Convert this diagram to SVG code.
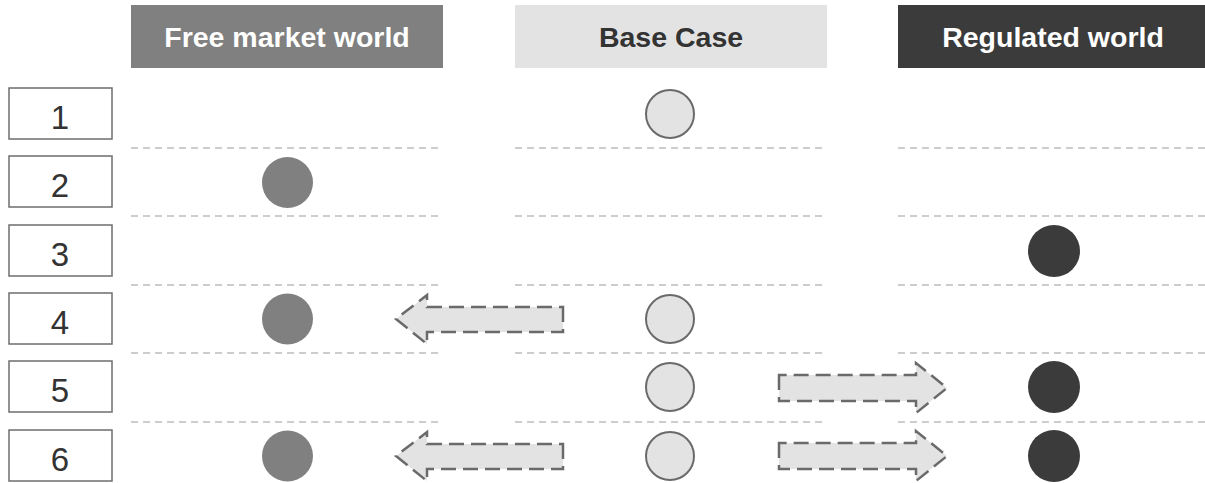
<svg xmlns="http://www.w3.org/2000/svg" width="1205" height="483" viewBox="0 0 1205 483">
  <style>
    .hdr { font-family: "Liberation Sans", Arial, sans-serif; font-weight: bold; font-size: 28.5px; text-anchor: middle; }
    .num { font-family: "Liberation Sans", Arial, sans-serif; font-size: 33px; fill: #333; text-anchor: middle; }
    .rowbox { fill: #fff; stroke: #6e6e6e; stroke-width: 1.5; }
    .sep { stroke: #bdbdbd; stroke-width: 1.5; stroke-dasharray: 7 5; fill: none; }
    .free { fill: #808080; }
    .base { fill: #e3e3e3; stroke: #6a6a6a; stroke-width: 2; }
    .reg { fill: #3b3b3b; }
    .arrow { fill: #e3e3e3; stroke: #6a6a6a; stroke-width: 2.5; stroke-dasharray: 15 7; stroke-linejoin: miter; }
  </style>

  <!-- column headers -->
  <g id="hdr-free">
    <rect x="131" y="5" width="312" height="63" fill="#808080"/>
    <text class="hdr" x="287" y="47" fill="#fff">Free market world</text>
  </g>
  <g id="hdr-base">
    <rect x="515" y="5" width="312" height="63" fill="#e3e3e3"/>
    <text class="hdr" x="671" y="47" fill="#333">Base Case</text>
  </g>
  <g id="hdr-reg">
    <rect x="898" y="5" width="307" height="63" fill="#3b3b3b"/>
    <text class="hdr" x="1053" y="47" fill="#fff">Regulated world</text>
  </g>

  <!-- row labels -->
  <g id="row1"><rect class="rowbox" x="9" y="88" width="103" height="51"/><text class="num" x="60" y="129">1</text></g>
  <g id="row2"><rect class="rowbox" x="9" y="156" width="103" height="51"/><text class="num" x="60" y="197">2</text></g>
  <g id="row3"><rect class="rowbox" x="9" y="225" width="103" height="51"/><text class="num" x="60" y="266">3</text></g>
  <g id="row4"><rect class="rowbox" x="9" y="293" width="103" height="51"/><text class="num" x="60" y="334">4</text></g>
  <g id="row5"><rect class="rowbox" x="9" y="361" width="103" height="51"/><text class="num" x="60" y="402">5</text></g>
  <g id="row6"><rect class="rowbox" x="9" y="430" width="103" height="51"/><text class="num" x="60" y="471">6</text></g>

  <!-- dashed row separators -->
  <g id="separators">
    <path class="sep" d="M131 148H443M515 148H827M898 148H1205"/>
    <path class="sep" d="M131 216H443M515 216H827M898 216H1205"/>
    <path class="sep" d="M131 285H443M515 285H827M898 285H1205"/>
    <path class="sep" d="M131 353H443M515 353H827M898 353H1205"/>
    <path class="sep" d="M131 422H443M515 422H827M898 422H1205"/>
  </g>

  <!-- scenario markers -->
  <g id="markers">
    <circle class="base" cx="670" cy="114" r="24"/>
    <circle class="free" cx="287.5" cy="182.5" r="25.5"/>
    <circle class="reg" cx="1054" cy="251" r="26"/>
    <circle class="free" cx="287.5" cy="319" r="25.5"/>
    <circle class="base" cx="670" cy="319" r="24"/>
    <circle class="base" cx="670" cy="387" r="24"/>
    <circle class="reg" cx="1054" cy="387" r="26"/>
    <circle class="free" cx="287.5" cy="456" r="25.5"/>
    <circle class="base" cx="670" cy="456" r="24"/>
    <circle class="reg" cx="1054" cy="456" r="26"/>
  </g>

  <!-- shift arrows -->
  <g id="connectors">
    <path class="arrow" d="M563 307V332H427V344L396 319L427 295V307Z"/>
    <path class="arrow" d="M779 375V401H916V413L947 388L916 363V375Z"/>
    <path class="arrow" d="M563 444V469H427V481L396 456L427 432V444Z"/>
    <path class="arrow" d="M779 443V469H916V481L947 456L916 431V443Z"/>
  </g>
</svg>
